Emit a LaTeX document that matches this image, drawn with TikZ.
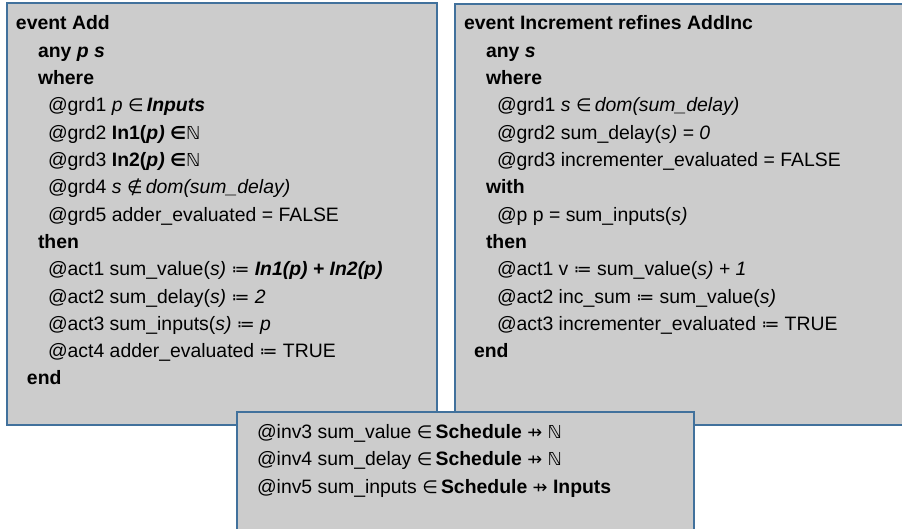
\documentclass[tikz,border=0pt]{standalone}
\usepackage{fontspec}
\setmainfont{Liberation Sans}
\newfontfamily\symfont[Scale=0.92]{DejaVu Sans}
% symbols of the Event-B notation
\newcommand{\mIn}{{\symfont ∈}}
\newcommand{\mNotin}{{\symfont ∉}}
\newcommand{\mDef}{{\symfont ≔}}
\newcommand{\mPfun}{{\symfont ⇸}}
\newcommand{\mNat}{{\symfont ℕ}}
\definecolor{boxblue}{RGB}{65,113,156}
\definecolor{boxgray}{RGB}{204,204,204}
\tikzset{
  evbox/.style={draw=boxblue, line width=1.3pt, fill=boxgray, anchor=north west,
    inner sep=0pt, outer sep=0pt},
  ln/.style={anchor=base west, inner sep=0pt, outer sep=0pt,
    font=\fontsize{19.4}{23}\selectfont},
}
\begin{document}
\begin{tikzpicture}[x=1pt,y=-1pt]
\clip (0,0) rectangle (902,529);
\fill[white] (0,0) rectangle (902,529);

% event boxes
\node[evbox, minimum width=430pt, minimum height=422pt] (add) at (7,3) {};
\node[evbox, minimum width=460pt, minimum height=421pt] (inc) at (455,4) {};
\node[evbox, minimum width=457pt, minimum height=130pt] (inv) at (237,412) {};

% event Add
\node[ln] (a1)  at (16,30)    {\textbf{event Add}};
\node[ln] (a2)  at (38,57.3)  {\textbf{any \textit{p s}}};
\node[ln] (a3)  at (38,84.6)  {\textbf{where}};
\node[ln] (a4)  at (48,111.9) {@grd1 \textit{p} \mIn\,\textbf{\textit{Inputs}}};
\node[ln] (a5)  at (48,139.2) {@grd2 \textbf{In1(\textit{p)}} \textbf{\mIn}\mNat};
\node[ln] (a6)  at (48,166.5) {@grd3 \textbf{In2(\textit{p)}} \textbf{\mIn}\mNat};
\node[ln] (a7)  at (48,193.8) {@grd4 \textit{s} \mNotin\,\textit{dom(sum\_delay)}};
\node[ln] (a8)  at (48,221.1) {@grd5 adder\_evaluated = FALSE};
\node[ln] (a9)  at (38,248.4) {\textbf{then}};
\node[ln] (a10) at (48,275.7) {@act1 sum\_value(\textit{s)} \mDef{} \textbf{\textit{In1(p) + In2(p)}}};
\node[ln] (a11) at (48,303)   {@act2 sum\_delay(\textit{s)} \mDef{} \textit{2}};
\node[ln] (a12) at (48,330.3) {@act3 sum\_inputs(\textit{s)} \mDef{} \textit{p}};
\node[ln] (a13) at (48,357.6) {@act4 adder\_evaluated \mDef{} TRUE};
\node[ln] (a14) at (27,384.9) {\textbf{end}};

% event Increment
\node[ln] (b1)  at (464,30)    {\textbf{event Increment refines AddInc}};
\node[ln] (b2)  at (486,57.3)  {\textbf{any \textit{s}}};
\node[ln] (b3)  at (486,84.6)  {\textbf{where}};
\node[ln] (b4)  at (497,111.9) {@grd1 \textit{s} \mIn\,\textit{dom(sum\_delay)}};
\node[ln] (b5)  at (497,139.2) {@grd2 sum\_delay(\textit{s) = 0}};
\node[ln] (b6)  at (497,166.5) {@grd3 incrementer\_evaluated = FALSE};
\node[ln] (b7)  at (486,193.8) {\textbf{with}};
\node[ln] (b8)  at (497,221.1) {@p p = sum\_inputs(\textit{s)}};
\node[ln] (b9)  at (486,248.4) {\textbf{then}};
\node[ln] (b10) at (497,275.7) {@act1 v \mDef{} sum\_value(\textit{s) + 1}};
\node[ln] (b11) at (497,303)   {@act2 inc\_sum \mDef{} sum\_value(\textit{s)}};
\node[ln] (b12) at (497,330.3) {@act3 incrementer\_evaluated \mDef{} TRUE};
\node[ln] (b13) at (474,357.6) {\textbf{end}};

% invariants
\node[ln] (c1) at (257,438.5) {@inv3 sum\_value \mIn\,\textbf{Schedule} \mPfun{} \mNat};
\node[ln] (c2) at (257,465.8) {@inv4 sum\_delay \mIn\,\textbf{Schedule} \mPfun{} \mNat};
\node[ln] (c3) at (257,493.1) {@inv5 sum\_inputs \mIn\,\textbf{Schedule} \mPfun{} \textbf{Inputs}};
\end{tikzpicture}
\end{document}
